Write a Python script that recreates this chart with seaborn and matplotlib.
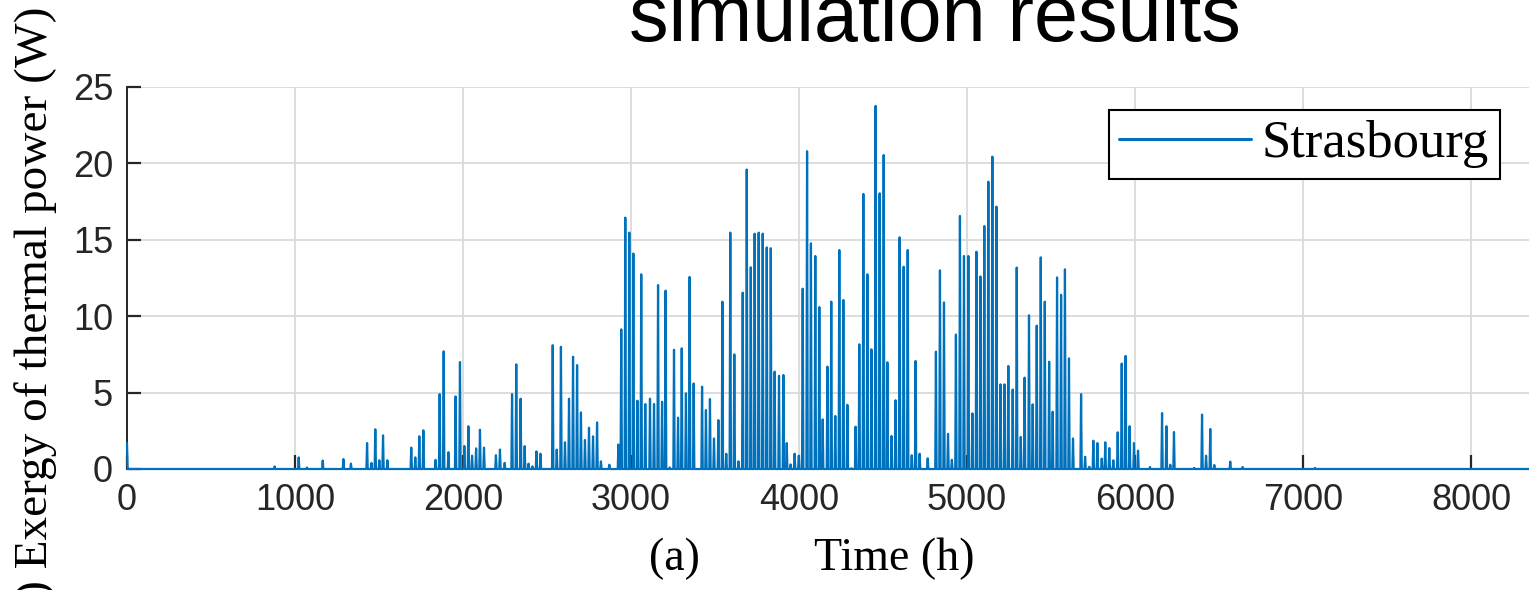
import numpy as np
import pandas as pd
import matplotlib
matplotlib.use("Agg")
import matplotlib.pyplot as plt
import seaborn as sns

# ---- data ----
start_hour = [0]
start_value = [1.7]
spike_hours = [
    879, 1022, 1071, 1165, 1288, 1333, 1429, 1455, 1478, 1502, 1524, 1550,
    1692, 1716, 1740, 1764, 1837, 1861, 1885, 1913, 1956, 1982, 2008, 2032,
    2054, 2078, 2101, 2125, 2196, 2220, 2248, 2292, 2317, 2343, 2367, 2390,
    2413, 2437, 2461, 2534, 2558, 2583, 2607, 2631, 2655, 2679, 2702, 2726,
    2750, 2774, 2798, 2821, 2871, 2925, 2942, 2966, 2990, 3014, 3038, 3061,
    3085, 3113, 3137, 3161, 3185, 3206, 3230, 3256, 3280, 3302, 3327, 3349,
    3373, 3423, 3446, 3470, 3494, 3520, 3544, 3567, 3591, 3615, 3640, 3665,
    3689, 3713, 3736, 3760, 3784, 3808, 3832, 3855, 3881, 3907, 3927, 3950,
    3974, 3999, 4022, 4048, 4071, 4097, 4121, 4141, 4169, 4192, 4216, 4240,
    4264, 4288, 4312, 4337, 4359, 4383, 4407, 4431, 4456, 4480, 4504, 4526,
    4551, 4575, 4599, 4623, 4647, 4671, 4694, 4718, 4766, 4815, 4839, 4863,
    4887, 4910, 4934, 4958, 4982, 5008, 5032, 5056, 5080, 5103, 5127, 5151,
    5175, 5199, 5223, 5246, 5272, 5296, 5320, 5343, 5369, 5391, 5415, 5439,
    5463, 5489, 5510, 5536, 5560, 5583, 5607, 5631, 5679, 5703, 5728, 5752,
    5776, 5802, 5823, 5847, 5871, 5897, 5921, 5944, 5968, 5994, 6018, 6089,
    6161, 6187, 6210, 6232, 6352, 6399, 6423, 6448, 6472, 6567, 6641, 7071,
]
spike_values = [
    0.17, 0.76, 0.10, 0.55, 0.65, 0.35, 1.7, 0.4, 2.6, 0.57, 2.2, 0.57,
    1.4, 0.76, 2.14, 2.53, 0.6, 4.9, 7.7, 1.1, 4.75, 7.0, 1.5, 2.8,
    0.87, 1.35, 2.57, 1.4, 0.9, 1.27, 0.4, 4.9, 6.85, 4.6, 1.5, 0.35,
    0.17, 1.15, 1.0, 8.1, 1.27, 8.0, 1.75, 4.6, 7.35, 6.8, 3.7, 1.9,
    2.7, 2.14, 3.05, 0.5, 0.28, 1.6, 9.14, 16.45, 15.47, 14.1, 4.47, 12.74,
    4.25, 4.6, 4.25, 12.04, 4.4, 11.67, 0.1, 7.8, 3.36, 7.9, 4.95, 12.57,
    5.6, 5.39, 3.86, 4.58, 2.0, 3.2, 10.95, 1.0, 15.47, 7.5, 0.5, 11.54,
    19.6, 13.2, 15.4, 15.47, 15.4, 14.5, 14.45, 6.37, 6.1, 6.15, 1.7, 0.3,
    1.0, 0.87, 11.8, 20.8, 14.77, 13.94, 10.6, 3.25, 6.7, 10.95, 3.47, 14.33,
    11.06, 4.2, 0.05, 2.77, 8.16, 18.0, 12.74, 7.83, 23.76, 18.04, 20.55, 6.98,
    2.16, 4.5, 15.16, 13.24, 14.33, 0.9, 7.07, 1.0, 0.7, 7.68, 13.0, 10.9,
    2.3, 0.6, 8.8, 16.56, 13.94, 13.94, 3.64, 14.22, 12.6, 15.9, 18.8, 20.44,
    17.17, 5.54, 5.54, 6.74, 5.2, 13.18, 2.1, 5.98, 10.06, 4.23, 9.38, 13.85,
    10.95, 7.02, 3.75, 12.54, 11.4, 13.07, 7.24, 2.0, 4.9, 0.8, 0.15, 1.85,
    1.7, 0.68, 1.75, 1.37, 0.57, 2.4, 6.9, 7.4, 2.8, 1.7, 1.2, 0.13,
    3.66, 2.8, 0.28, 2.42, 0.07, 3.56, 0.87, 2.62, 0.26, 0.48, 0.13, 0.07,
]
end_hour = [8760]
series_label = "Strasbourg"
x_ticks = [0, 1000, 2000, 3000, 4000, 5000, 6000, 7000, 8000]
y_ticks = [0, 5, 10, 15, 20, 25]

# ---- build the hourly trace from the spikes ----
hw = 4
xs, ys = [start_hour[0], start_hour[0] + hw], [start_value[0], 0.0]
for h, v in zip(spike_hours, spike_values):
    xs += [h - hw, h, h + hw]
    ys += [0.0, v, 0.0]
xs.append(end_hour[0]); ys.append(0.0)
df = pd.DataFrame({"Time (h)": xs, "Exergy": ys})

sns.set_theme(style="whitegrid")
plt.rcParams["font.family"] = ["Liberation Sans", "DejaVu Sans"]

W, H, DPI = 1529, 590, 100
fig = plt.figure(figsize=(W / DPI, H / DPI), dpi=DPI)
ax = fig.add_axes([127 / W, 1 - 469 / H, (W - 127) / W, (469 - 87) / H])

blue = "#0072BD"
dark = "#262626"
sns.lineplot(data=df, x="Time (h)", y="Exergy", ax=ax, color=blue,
             linewidth=1.6, estimator=None, sort=False, label=series_label)
for ln in ax.lines:
    ln.set_clip_on(False)
    ln.set_zorder(5)

ax.set_xlim(0, (W - 127) / 0.168)
ax.set_ylim(0, 25)
ax.set_xticks(x_ticks)
ax.set_yticks(y_ticks)
ax.set_xticklabels([str(t) for t in x_ticks])
ax.set_yticklabels([str(t) for t in y_ticks])
ax.set_xlabel("")
ax.set_ylabel("")

ax.grid(True, color="#dadada", linewidth=1.3)
ax.set_facecolor("white")
for s in ["top", "right"]:
    ax.spines[s].set_visible(False)
for s in ["left", "bottom"]:
    ax.spines[s].set_visible(True)
    ax.spines[s].set_color(dark)
    ax.spines[s].set_linewidth(1.4)
ax.tick_params(axis="both", which="major", direction="in", length=10,
               width=1.6, color=dark, labelcolor=dark, labelsize=26,
               bottom=True, left=True, top=False, right=False)
ax.tick_params(axis="x", pad=10)
ax.tick_params(axis="y", pad=10)
for lab in ax.get_xticklabels() + ax.get_yticklabels():
    lab.set_family(["Liberation Sans", "DejaVu Sans"])

leg = ax.legend(loc="upper right", bbox_to_anchor=(0.979, 0.940),
                borderaxespad=0, frameon=True, fancybox=False, framealpha=1,
                edgecolor="black", handlelength=2.5, handletextpad=0.2,
                borderpad=0.2,
                prop={"family": ["Liberation Serif", "DejaVu Serif"], "size": 38})
leg.get_frame().set_linewidth(1.5)
for t in leg.get_texts():
    t.set_color("black")
for hl in leg.get_lines():
    hl.set_linewidth(2.2)

# cropped title, y-label and x-label of the original figure
fig.text(935 / W, 1 - 41 / H, "simulation results", ha="center", va="baseline",
         fontsize=57, color="black", family=["Liberation Sans", "DejaVu Sans"])
fig.text(36 / W, 1 - 301.5 / H, ") Exergy of thermal power (W)", rotation=90,
         ha="center", va="center", fontsize=34, color="black",
         family=["Liberation Serif", "DejaVu Serif"])
fig.text(812 / W, 1 - 570 / H, "(a)          Time (h)", ha="center",
         va="baseline", fontsize=33, color="black",
         family=["Liberation Serif", "DejaVu Serif"])

fig.savefig("out.png", dpi=DPI, facecolor="white")
